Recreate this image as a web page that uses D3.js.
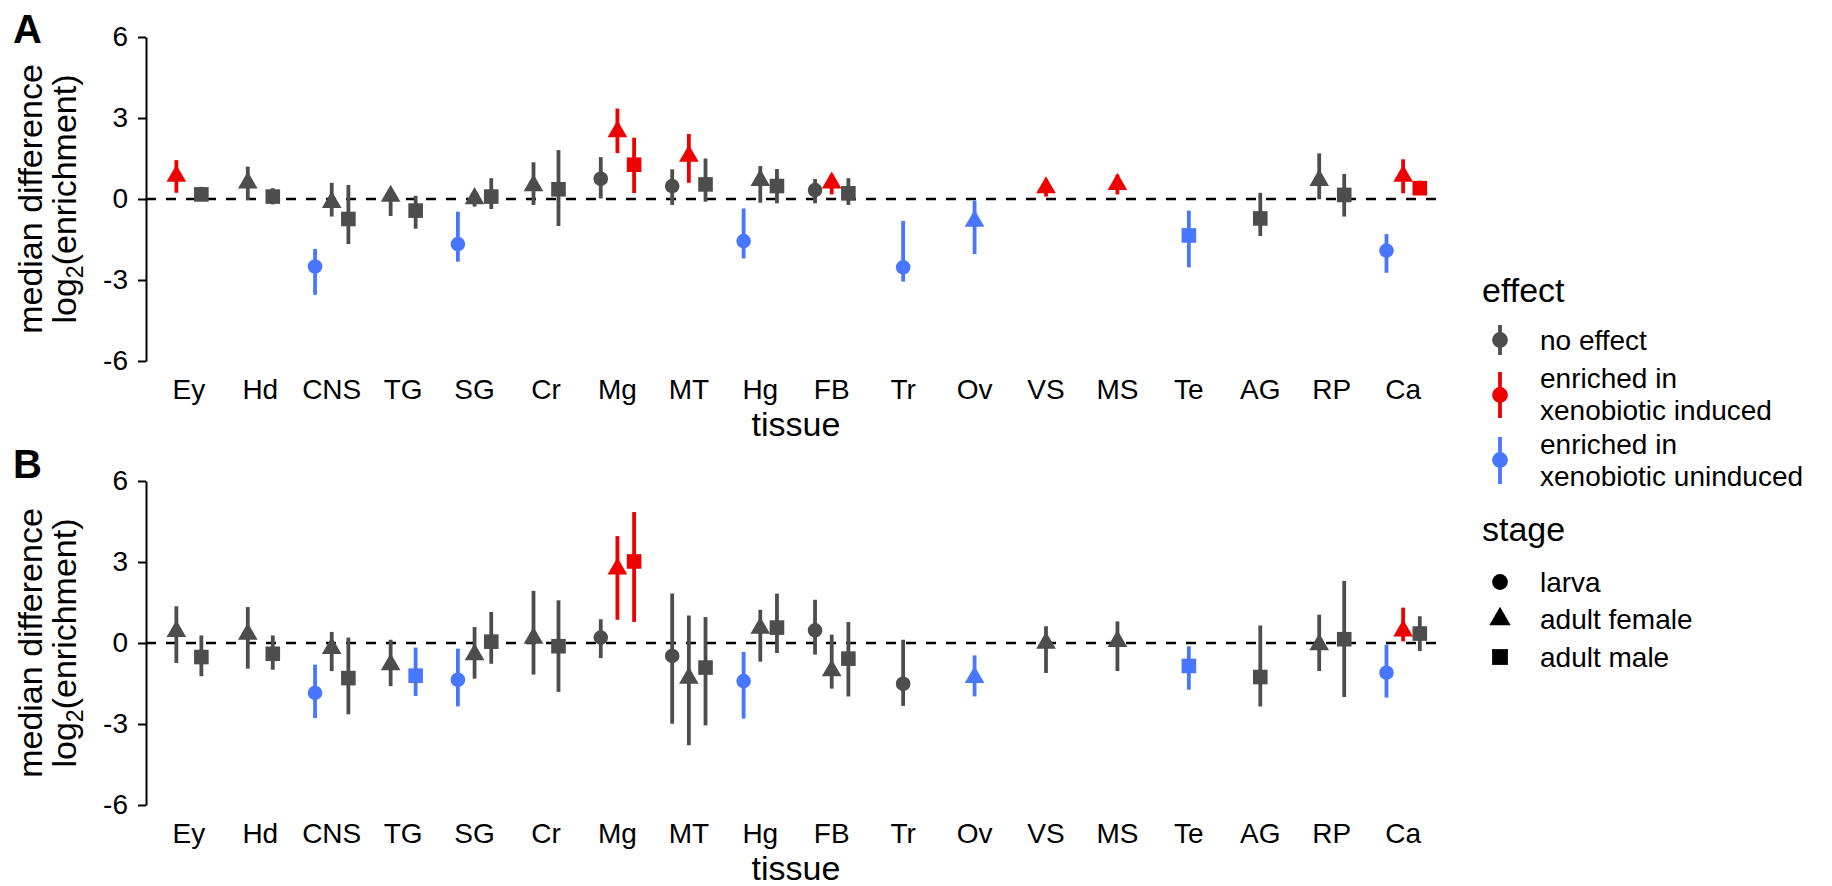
<!DOCTYPE html>
<html><head><meta charset="utf-8">
<script src="https://cdn.jsdelivr.net/npm/d3@7"></script>
<style>
body{margin:0;background:#fff}
text{font-family:"Liberation Sans",Arial,Helvetica,sans-serif;fill:#000}
</style>
</head><body>
<svg id="chart" width="1832" height="886"></svg>
<script>
// ---------------- data ----------------
const tissues = ["Ey","Hd","CNS","TG","SG","Cr","Mg","MT","Hg","FB","Tr","Ov","VS","MS","Te","AG","RP","Ca"];
const stageNames = ["larva","adult female","adult male"];
const effectNames = ["no effect","enriched in\nxenobiotic induced","enriched in\nxenobiotic uninduced"];
const yTicks = [-6,-3,0,3,6];

const rowTissue = ["Ey","Ey","Hd","Hd","CNS","CNS","CNS","TG","TG","SG","SG","SG","Cr","Cr","Mg","Mg","Mg","MT","MT","MT","Hg","Hg","Hg","FB","FB","FB","Tr","Ov","VS","MS","Te","AG","RP","RP","Ca","Ca","Ca"];
const rowStage = ["adult female","adult male","adult female","adult male","larva","adult female","adult male","adult female","adult male","larva","adult female","adult male","adult female","adult male","larva","adult female","adult male","larva","adult female","adult male","larva","adult female","adult male","larva","adult female","adult male","larva","adult female","adult female","adult female","adult male","adult male","adult female","adult male","larva","adult female","adult male"];

// panel A
const aEffect = ["induced","none","none","none","uninduced","none","none","none","none","uninduced","none","none","none","none","none","induced","induced","none","induced","none","uninduced","none","none","none","induced","none","uninduced","uninduced","induced","induced","uninduced","none","none","none","uninduced","induced","induced"];
const aMedian = [0.85,0.17,0.60,0.09,-2.5,-0.12,-0.74,0.11,-0.43,-1.67,0.02,0.09,0.5,0.36,0.75,2.5,1.27,0.48,1.59,0.54,-1.56,0.69,0.48,0.33,0.6,0.21,-2.53,-0.82,0.42,0.54,-1.35,-0.72,0.69,0.15,-1.91,0.85,0.4];
const aLow = [0.23,0.0,-0.04,-0.2,-3.55,-0.65,-1.67,-0.63,-1.1,-2.32,-0.28,-0.37,-0.22,-1.0,0.02,1.7,0.22,-0.22,0.6,-0.1,-2.2,-0.14,-0.16,-0.16,0.17,-0.22,-3.06,-2.04,0.09,0.17,-2.53,-1.37,-0.01,-0.65,-2.73,0.21,0.3];
const aHigh = [1.44,0.45,1.2,0.4,-1.85,0.6,0.52,0.3,0.12,-0.47,0.15,0.77,1.36,1.81,1.55,3.35,2.27,1.1,2.41,1.5,-0.35,1.22,1.11,0.74,0.9,0.77,-0.81,-0.06,0.65,0.9,-0.43,0.23,1.69,0.93,-1.3,1.47,0.68];

// panel B
const bEffect = ["none","none","none","none","uninduced","none","none","none","uninduced","uninduced","none","none","none","none","none","induced","induced","none","none","none","uninduced","none","none","none","none","none","none","uninduced","none","none","uninduced","none","none","none","uninduced","induced","none"];
const bMedian = [0.43,-0.52,0.33,-0.4,-1.85,-0.2,-1.3,-0.8,-1.21,-1.36,-0.43,0.05,0.18,-0.12,0.2,2.75,3.02,-0.48,-1.3,-0.91,-1.41,0.55,0.57,0.47,-1.02,-0.58,-1.51,-1.27,0.0,0.06,-0.85,-1.26,-0.06,0.14,-1.1,0.45,0.35];
const bLow = [-0.74,-1.23,-0.95,-0.99,-2.78,-1.04,-2.64,-1.6,-1.96,-2.35,-1.32,-0.77,-1.17,-1.81,-0.56,0.86,0.78,-2.99,-3.79,-3.05,-2.8,-0.69,-0.37,-0.43,-1.69,-1.98,-2.33,-1.98,-1.11,-1.04,-1.73,-2.35,-1.04,-2.0,-2.02,0.06,-0.3];
const bHigh = [1.36,0.28,1.33,0.28,-0.8,0.41,0.2,0.12,-0.17,-0.21,0.59,1.15,1.93,1.58,0.88,3.96,4.85,1.83,1.02,0.96,-0.33,1.23,1.83,1.6,0.31,0.78,0.12,-0.46,0.62,0.8,-0.12,0.65,1.05,2.3,-0.06,1.31,0.99];

// ---------------- styles ----------------
const effectKeys = ["none","induced","uninduced"];
const color = d3.scaleOrdinal().domain(effectKeys).range(["#4D4D4D","#EE0000","#4876FF"]);
const XC = 7.3;          // symbol radius (R pch size)
const LW = 3.8;          // error bar width
const FONT_TICK = 28, FONT_TITLE = 34;

const svg = d3.select("#chart");
svg.append("rect").attr("width",1832).attr("height",886).attr("fill","#fff");

const x = d3.scalePoint().domain(tissues).range([146,1446]).padding(0.6);
const step = x.step();
const dodgeW = 0.7;

// stages present per tissue
const present = {};
rowTissue.forEach((t,i)=>{ (present[t] = present[t] || new Set()).add(rowStage[i]); });
function xPos(t, s){
  const list = stageNames.filter(n => present[t].has(n));
  const n = list.length, i = list.indexOf(s);
  return x(t) + (i - (n-1)/2) * (dodgeW/n) * step;
}

function symbolPath(stage, cx, cy, xc){
  if (stage === "larva") {
    return `M${cx-xc},${cy}a${xc},${xc} 0 1,0 ${2*xc},0a${xc},${xc} 0 1,0 ${-2*xc},0Z`;
  } else if (stage === "adult female") {
    const r = 1.555*xc, h = 1.347*xc, yc = 0.7776*xc;
    return `M${cx},${cy-r}L${cx+h},${cy+yc}L${cx-h},${cy+yc}Z`;
  } else {
    return `M${cx-xc},${cy-xc}h${2*xc}v${2*xc}h${-2*xc}Z`;
  }
}

function drawPanel(top, bottom, tag, tagY, effect, med, lo, hi){
  const y = d3.scaleLinear().domain([-6,6]).range([bottom, top]);
  const g = svg.append("g");

  // y axis
  const ax = g.append("g").attr("transform","translate(146,0)")
    .call(d3.axisLeft(y).tickValues(yTicks).tickSize(8).tickSizeOuter(0).tickPadding(10).tickFormat(d => String(d)));
  ax.select(".domain").attr("stroke","#000").attr("stroke-width",2);
  ax.selectAll(".tick line").attr("stroke","#000").attr("stroke-width",2);
  ax.selectAll(".tick text").style("font-size",FONT_TICK+"px").attr("fill","#000")
    .style("font-family",'"Liberation Sans",Arial,sans-serif');

  // x labels
  g.selectAll(".xl").data(tissues).enter().append("text")
    .attr("x", d=>x(d)).attr("y", bottom+38).attr("text-anchor","middle")
    .style("font-size",FONT_TICK+"px").text(d=>d);

  // x title
  g.append("text").attr("x",(146+1446)/2).attr("y",bottom+75).attr("text-anchor","middle")
    .style("font-size",FONT_TITLE+"px").text("tissue");

  // y title
  const cy = (top+bottom)/2;
  g.append("text").attr("transform",`translate(42,${cy}) rotate(-90)`).attr("text-anchor","middle")
    .style("font-size",FONT_TITLE+"px").text("median difference");
  const t2 = g.append("text").attr("transform",`translate(76,${cy}) rotate(-90)`).attr("text-anchor","middle")
    .style("font-size",FONT_TITLE+"px");
  t2.append("tspan").text("log");
  t2.append("tspan").attr("dy",7).style("font-size","23px").text("2");
  t2.append("tspan").attr("dy",-7).text("(enrichment)");

  // tag
  g.append("text").attr("x",13).attr("y",tagY).style("font-size","40px").style("font-weight","bold").text(tag);

  // zero line
  g.append("line").attr("x1",146).attr("x2",1446).attr("y1",y(0)).attr("y2",y(0))
    .attr("stroke","#000").attr("stroke-width",2.6).attr("stroke-dasharray","10,10");

  // pointranges
  const rows = rowTissue.map((t,i)=>({t, s:rowStage[i], e:effect[i], m:med[i], l:lo[i], h:hi[i]}));
  const pr = g.selectAll(".pr").data(rows).enter().append("g");
  pr.append("line")
    .attr("x1", d=>xPos(d.t,d.s)).attr("x2", d=>xPos(d.t,d.s))
    .attr("y1", d=>y(d.l)).attr("y2", d=>y(d.h))
    .attr("stroke", d=>color(d.e)).attr("stroke-width", LW);
  pr.append("path")
    .attr("d", d=>symbolPath(d.s, xPos(d.t,d.s), y(d.m), XC))
    .attr("fill", d=>color(d.e));
}

drawPanel(37, 361, "A", 43, aEffect, aMedian, aLow, aHigh);
drawPanel(481, 805, "B", 478, bEffect, bMedian, bLow, bHigh);

// ---------------- legends ----------------
const lg = svg.append("g");
const LX = 1482, KX = 1500, TX = 1540;
lg.append("text").attr("x",LX).attr("y",302).style("font-size",FONT_TITLE+"px").text("effect");
const effItems = [
  {k:"none", cy:340, y1:325, y2:355, lines:effectNames[0].split("\n"), base:[350]},
  {k:"induced", cy:395, y1:372, y2:418, lines:effectNames[1].split("\n"), base:[388,420]},
  {k:"uninduced", cy:460, y1:437, y2:484, lines:effectNames[2].split("\n"), base:[454,486]}
];
effItems.forEach(it=>{
  lg.append("line").attr("x1",KX).attr("x2",KX).attr("y1",it.y1).attr("y2",it.y2)
    .attr("stroke",color(it.k)).attr("stroke-width",LW);
  lg.append("path").attr("d",symbolPath("larva",KX,it.cy,XC+0.6)).attr("fill",color(it.k));
  it.lines.forEach((ln,j)=>{
    lg.append("text").attr("x",TX).attr("y",it.base[j]).style("font-size",FONT_TICK+"px").text(ln);
  });
});
lg.append("text").attr("x",LX).attr("y",541).style("font-size",FONT_TITLE+"px").text("stage");
const stY = [582, 619, 657];
stageNames.forEach((s,i)=>{
  lg.append("path").attr("d",symbolPath(s,KX,stY[i],XC+0.6)).attr("fill","#000");
  lg.append("text").attr("x",TX).attr("y",stY[i]+10).style("font-size",FONT_TICK+"px").text(s);
});
</script>
</body></html>
